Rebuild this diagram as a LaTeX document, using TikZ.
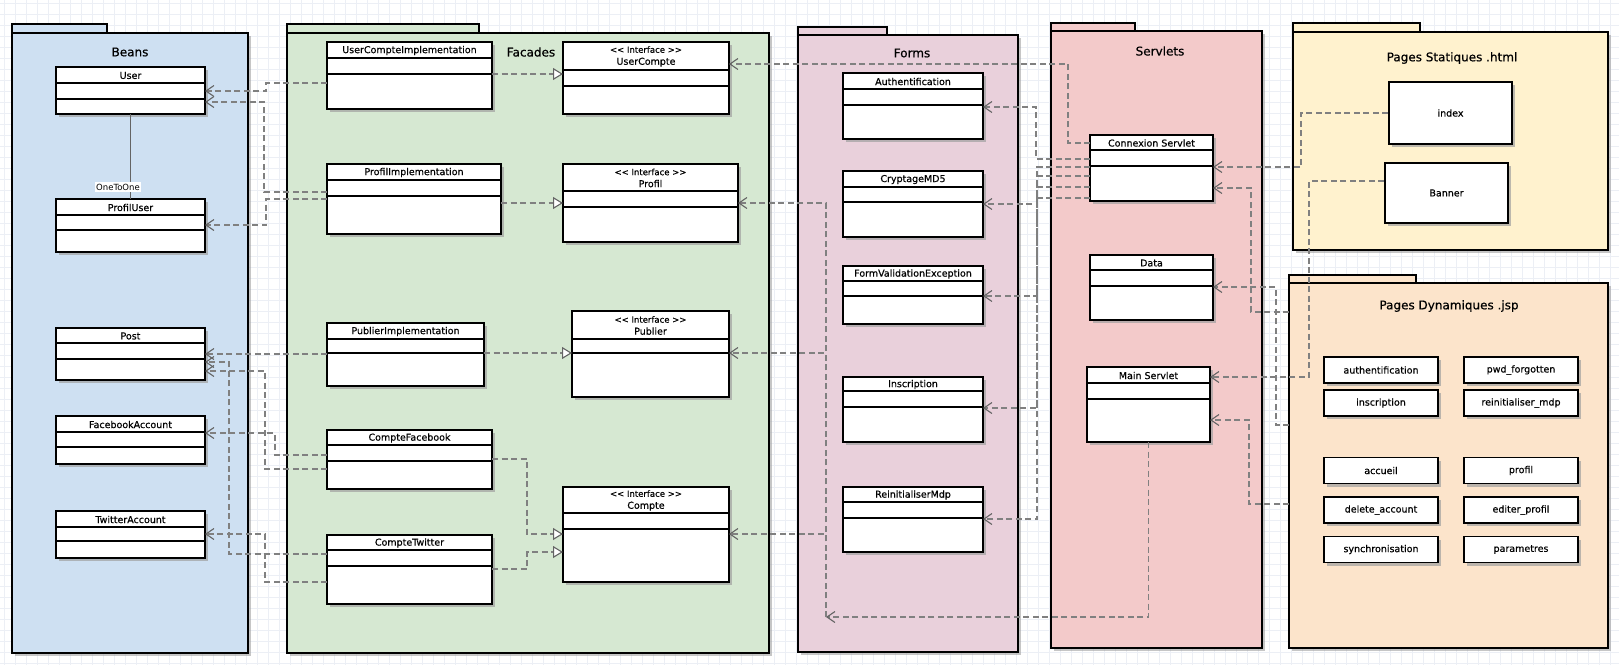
\documentclass[tikz,border=0pt]{standalone}
\usepackage{fontspec}
\setmainfont{DejaVu Sans}
\newfontfamily\semifont[FakeBold=0.45]{DejaVu Sans}
\newfontfamily\titlefont[FakeBold=0.6]{DejaVu Sans}
\usetikzlibrary{arrows.meta,fit,shadows}
\definecolor{beansc}{RGB}{206,224,242}
\definecolor{facadesc}{RGB}{214,232,210}
\definecolor{formsc}{RGB}{233,208,219}
\definecolor{servletsc}{RGB}{243,202,202}
\definecolor{statc}{RGB}{255,242,206}
\definecolor{dync}{RGB}{252,228,203}
\definecolor{gridc}{RGB}{236,239,245}
\definecolor{depc}{RGB}{128,128,128}
\definecolor{tipc}{RGB}{100,100,100}
\definecolor{shadc}{RGB}{160,160,160}
\tikzset{
  gridline/.style={draw=gridc, line width=0.5pt},
  pkgbox/.style={draw=black, line width=1.8pt, inner sep=0pt, outer sep=0pt,
     general shadow={fill=shadc, opacity=0.6, shadow xshift=3pt, shadow yshift=-3pt}},
  pkgtab/.style={draw=black, line width=1.8pt},
  pkgtitle/.style={font=\titlefont\fontsize{12}{14}\selectfont, inner sep=1pt},
  classbox/.style={draw=black, fill=white, line width=1.6pt, inner sep=0pt, outer sep=0pt,
     general shadow={fill=shadc, opacity=0.7, shadow xshift=3pt, shadow yshift=-3pt}},
  classline/.style={draw=black, line width=1.6pt},
  classname/.style={font=\semifont\fontsize{9.5}{11}\selectfont, inner sep=0pt},
  ifname/.style={font=\semifont\fontsize{9.5}{12}\selectfont, inner sep=0pt, align=center},
  pagebox/.style={draw=black, fill=white, line width=1.6pt, inner sep=0pt,
     font=\semifont\fontsize{9.5}{11}\selectfont,
     general shadow={fill=shadc, opacity=0.7, shadow xshift=3pt, shadow yshift=-3pt}},
  dep/.style={draw=depc, line width=1.5pt, dash pattern=on 6pt off 3.5pt,
     -{Straight Barb[length=8pt, width=11pt, line width=1.1pt, color=tipc]}},
  real/.style={draw=depc, line width=1.5pt, dash pattern=on 6pt off 3.5pt,
     -{Triangle[open, length=10pt, width=12pt, line width=1.1pt, fill=white, color=tipc]}},
  assoc/.style={draw=tipc, line width=1.3pt},
  assoclabel/.style={fill=white, font=\fontsize{8.5}{10}\selectfont, inner sep=1.5pt}
}
\newcommand\stereo{{\fontsize{8.5}{10}\selectfont <\kern0pt< Interface >\kern0pt>}}
% name, x1, y1, x2, ya, yb, ybottom, label
\newcommand\umlclass[8]{%
  \node[classbox, fit={(#2,#3) (#4,#7)}] (#1) {};
  \draw[classline] (#2,#5) -- (#4,#5) (#2,#6) -- (#4,#6);
  \node[classname] (#1-t) at ({(#2+#4)/2},{(#3+#5)/2+0.5}) {#8};
}
\newcommand\umliface[8]{%
  \node[classbox, fit={(#2,#3) (#4,#7)}] (#1) {};
  \draw[classline] (#2,#5) -- (#4,#5) (#2,#6) -- (#4,#6);
  \node[ifname] (#1-t) at ({(#2+#4)/2},{(#3+#5)/2+0.5}) {\stereo\\#8};
}
% name, x1, tabx2, tabtop, bodytop, x2, bottom, colour
\newcommand\umlpackage[8]{%
  \filldraw[pkgtab, fill=#8] (#2,#4) rectangle (#3,#5);
  \node[pkgbox, fill=#8, fit={(#2,#5) (#6,#7)}] (#1) {};
}
\begin{document}
\begin{tikzpicture}[x=1pt,y=-1pt]
\useasboundingbox (0,0) rectangle (1619,665);
\fill[white] (0,0) rectangle (1619,665);
\foreach \i in {0,...,147} \draw[gridline] (\i*11+4,0) -- (\i*11+4,665);
\foreach \j in {0,...,60} \draw[gridline] (0,\j*11+3) -- (1619,\j*11+3);

% ---------- packages ----------
\umlpackage{Beans}{12}{107}{24}{33}{248}{653}{beansc}
\umlpackage{Facades}{287}{479}{24}{33}{769}{653}{facadesc}
\umlpackage{Forms}{798}{887}{27}{35}{1018}{652}{formsc}
\umlpackage{Servlets}{1051}{1135}{23}{31}{1262}{648}{servletsc}
\umlpackage{PagesStat}{1293}{1420}{23}{32}{1608}{250}{statc}
\umlpackage{PagesDyn}{1289}{1416}{275}{283}{1608}{648}{dync}

\node[pkgtitle] (Beans-title) at (130,52) {Beans};
\node[pkgtitle] (Facades-title) at (531,52) {Facades};
\node[pkgtitle] (Forms-title) at (912,53) {Forms};
\node[pkgtitle] (Servlets-title) at (1160,51) {Servlets};
\node[pkgtitle] (PagesStat-title) at (1452,58) {Pages Statiques .html};
\node[pkgtitle] (PagesDyn-title) at (1449,306) {Pages Dynamiques .jsp};

% ---------- Beans ----------
\umlclass{User}{56}{67}{205}{83}{99}{114}{User}
\umlclass{ProfilUser}{56}{199}{205}{215}{230}{252}{ProfilUser}
\umlclass{Post}{56}{328}{205}{343}{359}{380}{Post}
\umlclass{FacebookAccount}{56}{416}{205}{432}{447}{464}{FacebookAccount}
\umlclass{TwitterAccount}{56}{511}{205}{527}{541}{558}{TwitterAccount}
\draw[assoc] (User.south) -- (ProfilUser.north);
\node[assoclabel] (o2o) at (118,187) {OneToOne};

% ---------- Facades ----------
\umlclass{UCI}{327}{42}{492}{58}{74}{109}{UserCompteImplementation}
\umliface{UserCompte}{563}{42}{729}{70}{86}{114}{UserCompte}
\umlclass{ProfilImpl}{327}{164}{501}{180}{196}{234}{ProfilImplementation}
\umliface{Profil}{563}{164}{738}{191}{207}{242}{Profil}
\umlclass{PublierImpl}{327}{323}{484}{339}{353}{386}{PublierImplementation}
\umliface{Publier}{572}{311}{729}{339}{353}{397}{Publier}
\umlclass{CompteFacebook}{327}{430}{492}{445}{461}{489}{CompteFacebook}
\umlclass{CompteTwitter}{327}{535}{492}{550}{566}{604}{CompteTwitter}
\umliface{Compte}{563}{487}{729}{513}{529}{582}{Compte}

% ---------- Forms ----------
\umlclass{Authentification}{843}{73}{983}{89}{105}{139}{Authentification}
\umlclass{CryptageMD5}{843}{171}{983}{187}{202}{237}{CryptageMD5}
\umlclass{FormValidationException}{843}{266}{983}{281}{296}{324}{FormValidationException}
\umlclass{Inscription}{843}{377}{983}{391}{407}{442}{Inscription}
\umlclass{ReinitialiserMdp}{843}{487}{983}{502}{518}{552}{ReinitialiserMdp}

% ---------- Servlets ----------
\umlclass{ConnexionServlet}{1090}{135}{1213}{150}{166}{201}{Connexion Servlet}
\umlclass{Data}{1090}{255}{1213}{270}{286}{320}{Data}
\umlclass{MainServlet}{1087}{367}{1210}{383}{399}{442}{Main Servlet}

% ---------- Pages ----------
\node[pagebox, minimum width=123, minimum height=62] (index) at (1450.5,113) {index};
\node[pagebox, minimum width=123, minimum height=60] (Banner) at (1446.5,193) {Banner};
\node[pagebox, minimum width=114, minimum height=26] (pauth) at (1381,370) {authentification};
\node[pagebox, minimum width=114, minimum height=26] (ppwd) at (1521,370) {pwd\_forgotten};
\node[pagebox, minimum width=114, minimum height=26] (pinsc) at (1381,403) {inscription};
\node[pagebox, minimum width=114, minimum height=26] (preinit) at (1521,403) {reinitialiser\_mdp};
\node[pagebox, minimum width=114, minimum height=26] (paccueil) at (1381,470.5) {accueil};
\node[pagebox, minimum width=114, minimum height=26] (pprofil) at (1521,470.5) {profil};
\node[pagebox, minimum width=114, minimum height=26] (pdelete) at (1381,510) {delete\_account};
\node[pagebox, minimum width=114, minimum height=26] (pediter) at (1521,510) {editer\_profil};
\node[pagebox, minimum width=114, minimum height=26] (psync) at (1381,549.5) {synchronisation};
\node[pagebox, minimum width=114, minimum height=26] (pparam) at (1521,549.5) {parametres};

% ---------- Facades -> Beans ----------
\draw[dep] (UCI.west|-0,83) -- (266,83) |- (User.east|-0,91);
\draw[dep] (ProfilImpl.west|-0,192) -- (264,192) |- (User.east|-0,102);
\draw[dep] (ProfilImpl.west|-0,199) -- (266,199) |- (ProfilUser.east|-0,225);
\draw[dep] (PublierImpl.west|-0,354) -- (Post.east|-0,354);
\draw[dep] (CompteTwitter.west|-0,554) -- (229,554) |- (Post.east|-0,362);
\draw[dep] (CompteFacebook.west|-0,469) -- (265,469) |- (Post.east|-0,371);
\draw[dep] (CompteFacebook.west|-0,455) -- (275,455) |- (FacebookAccount.east|-0,433);
\draw[dep] (CompteTwitter.west|-0,582) -- (265,582) |- (TwitterAccount.east|-0,534);

% ---------- realizations ----------
\draw[real] (UCI.east|-0,74) -- (UserCompte.west|-0,74);
\draw[real] (ProfilImpl.east|-0,203) -- (Profil.west|-0,203);
\draw[real] (PublierImpl.east|-0,353) -- (Publier.west|-0,353);
\draw[real] (CompteFacebook.east|-0,459) -- (527,459) |- (Compte.west|-0,534);
\draw[real] (CompteTwitter.east|-0,569) -- (527,569) |- (Compte.west|-0,552);

% ---------- Servlets -> Facades ----------
\draw[dep] (ConnexionServlet.west|-0,143) -- (1068,143) |- (UserCompte.east|-0,64);
\coordinate (hub) at (826,617);
\draw[dep] (MainServlet.south) |- (hub);
\draw[dep] (hub) |- (Profil.east|-0,203);
\draw[dep] (hub) |- (Publier.east|-0,353);
\draw[dep] (hub) |- (Compte.east|-0,534);

% ---------- Servlets -> Forms ----------
\draw[dep] (ConnexionServlet.west|-0,159) -- (1036,159) |- (Authentification.east|-0,107);
\draw[dep] (ConnexionServlet.west|-0,167) -- (1037,167) |- (CryptageMD5.east|-0,204);
\draw[dep] (ConnexionServlet.west|-0,176) -- (1037,176) |- (FormValidationException.east|-0,296);
\draw[dep] (ConnexionServlet.west|-0,187) -- (1037,187) |- (Inscription.east|-0,408);
\draw[dep] (ConnexionServlet.west|-0,198) -- (1037,198) |- (ReinitialiserMdp.east|-0,519);

% ---------- Pages -> Servlets ----------
\draw[dep] (index.west|-0,113) -- (1301,113) |- (ConnexionServlet.east|-0,167);
\draw[dep] (PagesDyn.west|-0,312) -- (1251,312) |- (ConnexionServlet.east|-0,188);
\draw[dep] (PagesDyn.west|-0,425) -- (1276,425) |- (Data.east|-0,287);
\draw[dep] (Banner.west|-0,181) -- (1309,181) |- (MainServlet.east|-0,377);
\draw[dep] (PagesDyn.west|-0,504) -- (1249,504) |- (MainServlet.east|-0,420);
\end{tikzpicture}
\end{document}
